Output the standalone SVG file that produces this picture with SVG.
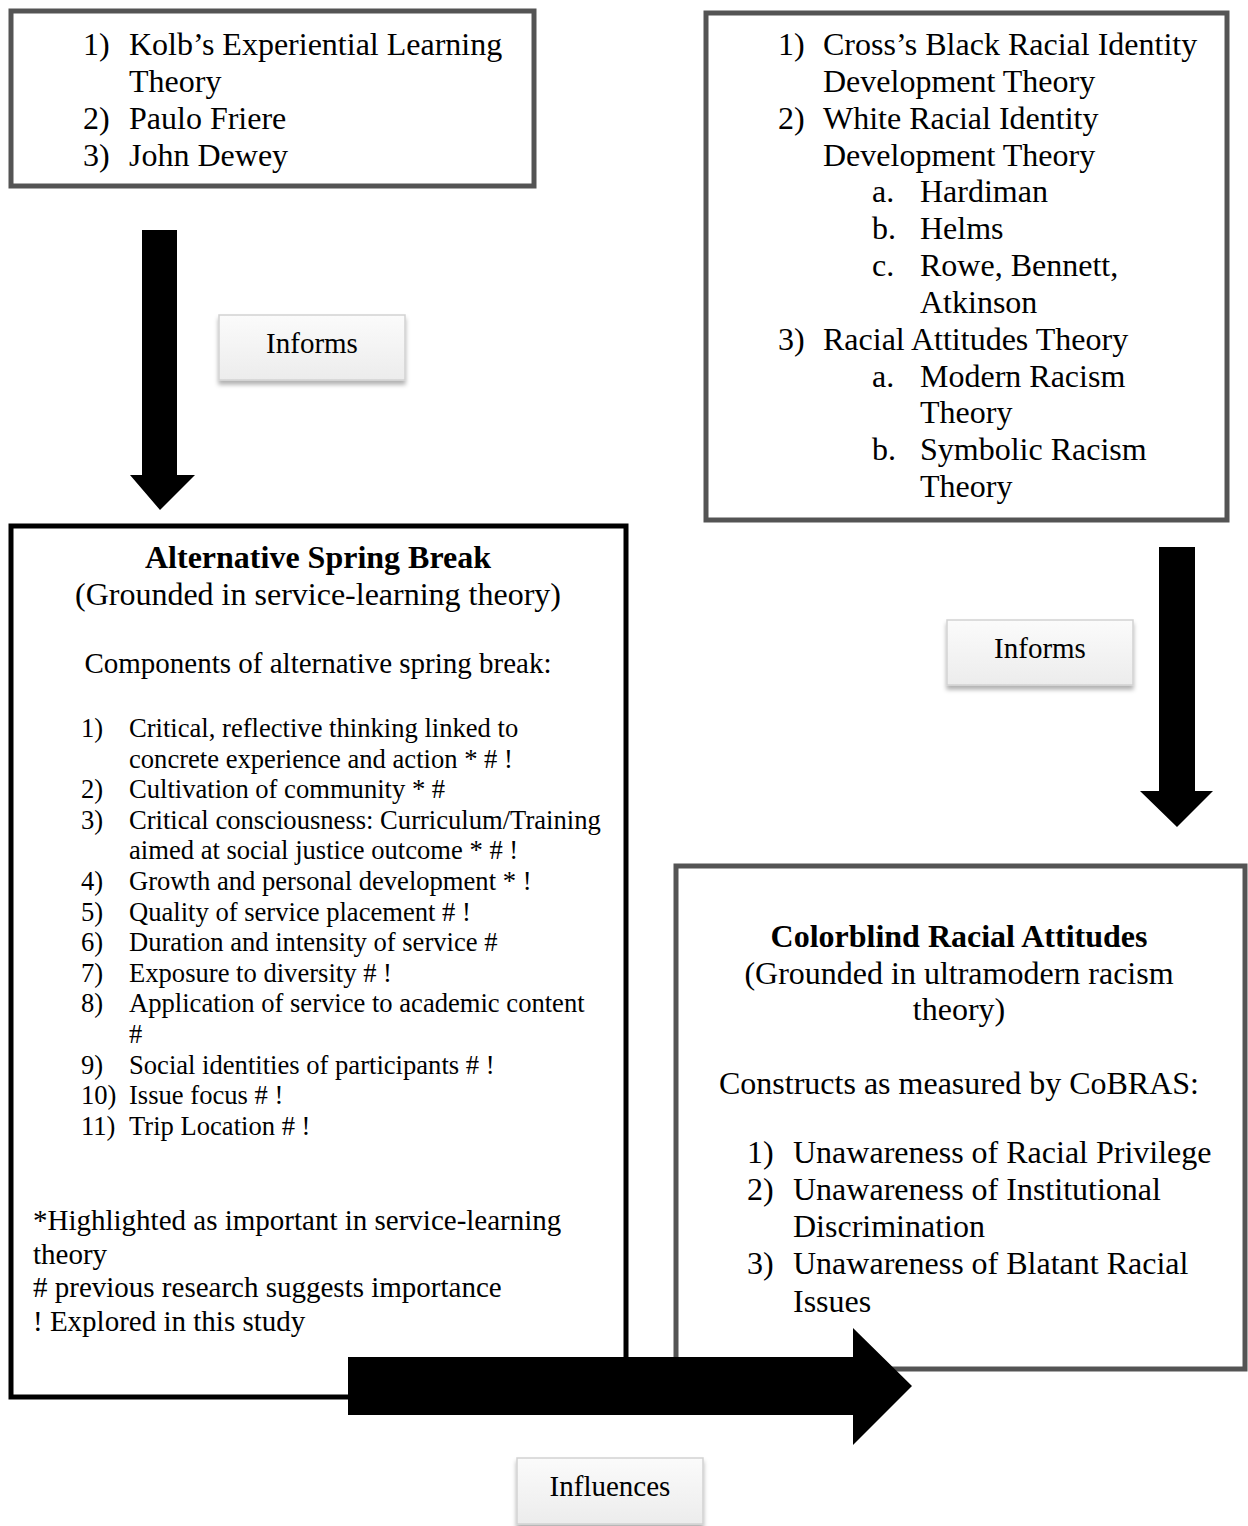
<svg xmlns="http://www.w3.org/2000/svg" width="1248" height="1526" viewBox="0 0 1248 1526">
<style>
text{font-family:"Liberation Serif","Times New Roman",serif;fill:#000}
.t32{font-size:32px}
.t29{font-size:29px}
.t26{font-size:26.6px}
.b{font-weight:bold}
.mid{text-anchor:middle}
.box{fill:#fff;stroke-width:5}
.grey{stroke:#545454}
.blk{stroke:#000}
.lbl{fill:url(#lg);stroke:#d2d2d2;stroke-width:1.5;filter:url(#sh)}
.arr{fill:#000}
</style>
<defs>
<linearGradient id="lg" x1="0" y1="0" x2="0" y2="1">
<stop offset="0" stop-color="#fbfbfb"/>
<stop offset="1" stop-color="#ececec"/>
</linearGradient>
<filter id="sh" x="-10%" y="-10%" width="120%" height="140%">
<feDropShadow dx="0" dy="4" stdDeviation="2" flood-color="#000" flood-opacity="0.3"/>
</filter>
</defs>

<g id="node-theories-left">
<rect class="box grey" x="11" y="11" width="523" height="175"/>
<text class="t32"><tspan x="83" y="55">1)</tspan><tspan x="129" y="55">Kolb’s Experiential Learning</tspan><tspan x="129" y="92">Theory</tspan><tspan x="83" y="129">2)</tspan><tspan x="129" y="129">Paulo Friere</tspan><tspan x="83" y="166">3)</tspan><tspan x="129" y="166">John Dewey</tspan></text>
</g>

<g id="node-theories-right">
<rect class="box grey" x="706" y="13" width="521" height="507"/>
<text class="t32"><tspan x="778" y="55">1)</tspan><tspan x="823" y="55">Cross’s Black Racial Identity</tspan><tspan x="823" y="92">Development Theory</tspan><tspan x="778" y="129">2)</tspan><tspan x="823" y="129">White Racial Identity</tspan><tspan x="823" y="166">Development Theory</tspan><tspan x="872" y="202">a.</tspan><tspan x="920" y="202">Hardiman</tspan><tspan x="872" y="239">b.</tspan><tspan x="920" y="239">Helms</tspan><tspan x="872" y="276">c.</tspan><tspan x="920" y="276">Rowe, Bennett,</tspan><tspan x="920" y="313">Atkinson</tspan><tspan x="778" y="350">3)</tspan><tspan x="823" y="350">Racial Attitudes Theory</tspan><tspan x="872" y="387">a.</tspan><tspan x="920" y="387">Modern Racism</tspan><tspan x="920" y="423">Theory</tspan><tspan x="872" y="460">b.</tspan><tspan x="920" y="460">Symbolic Racism</tspan><tspan x="920" y="497">Theory</tspan></text>
</g>

<g id="node-asb">
<rect class="box blk" x="11" y="526" width="615" height="871"/>
<text class="t32 b mid" x="318" y="568">Alternative Spring Break</text>
<text class="t32 mid" x="318" y="605">(Grounded in service-learning theory)</text>
<text class="t29 mid" x="318" y="673">Components of alternative spring break:</text>
<text class="t26"><tspan x="81" y="737">1)</tspan><tspan x="129" y="737">Critical, reflective thinking linked to</tspan><tspan x="129" y="767.6">concrete experience and action * # !</tspan><tspan x="81" y="798.2">2)</tspan><tspan x="129" y="798.2">Cultivation of community * #</tspan><tspan x="81" y="828.8">3)</tspan><tspan x="129" y="828.8">Critical consciousness: Curriculum/Training</tspan><tspan x="129" y="859.4">aimed at social justice outcome * # !</tspan><tspan x="81" y="890">4)</tspan><tspan x="129" y="890">Growth and personal development * !</tspan><tspan x="81" y="920.6">5)</tspan><tspan x="129" y="920.6">Quality of service placement # !</tspan><tspan x="81" y="951.2">6)</tspan><tspan x="129" y="951.2">Duration and intensity of service #</tspan><tspan x="81" y="981.8">7)</tspan><tspan x="129" y="981.8">Exposure to diversity # !</tspan><tspan x="81" y="1012.4">8)</tspan><tspan x="129" y="1012.4">Application of service to academic content</tspan><tspan x="129" y="1043">#</tspan><tspan x="81" y="1073.6">9)</tspan><tspan x="129" y="1073.6">Social identities of participants # !</tspan><tspan x="81" y="1104.2">10)</tspan><tspan x="129" y="1104.2">Issue focus # !</tspan><tspan x="81" y="1134.8">11)</tspan><tspan x="129" y="1134.8">Trip Location # !</tspan></text>
<text class="t29"><tspan x="33" y="1230">*Highlighted as important in service-learning</tspan><tspan x="33" y="1264">theory</tspan><tspan x="33" y="1297"># previous research suggests importance</tspan><tspan x="33" y="1331">! Explored in this study</tspan></text>
</g>

<g id="node-colorblind">
<rect class="box grey" x="676" y="866" width="569" height="503"/>
<text class="t32 b mid" x="959" y="947">Colorblind Racial Attitudes</text>
<text class="t32 mid" x="959" y="984">(Grounded in ultramodern racism</text>
<text class="t32 mid" x="959" y="1020">theory)</text>
<text class="t32 mid" x="959" y="1094">Constructs as measured by CoBRAS:</text>
<text class="t32"><tspan x="747" y="1163">1)</tspan><tspan x="793" y="1163">Unawareness of Racial Privilege</tspan><tspan x="747" y="1200">2)</tspan><tspan x="793" y="1200">Unawareness of Institutional</tspan><tspan x="793" y="1237">Discrimination</tspan><tspan x="747" y="1274">3)</tspan><tspan x="793" y="1274">Unawareness of Blatant Racial</tspan><tspan x="793" y="1312">Issues</tspan></text>
</g>

<g id="connectors">
<polygon class="arr" points="142,230 177,230 177,475 195,475 160,510 130,475 142,475"/>
<polygon class="arr" points="1159,547 1195,547 1195,791 1213,791 1177,827 1140,791 1159,791"/>
<polygon class="arr" points="348,1357 853,1357 853,1328 912,1386 853,1445 853,1415 348,1415"/>
</g>

<g id="label-informs-1">
<rect class="lbl" x="219" y="315" width="186" height="65"/>
<text class="t29 mid" x="312" y="353">Informs</text>
</g>
<g id="label-informs-2">
<rect class="lbl" x="947" y="620" width="186" height="65"/>
<text class="t29 mid" x="1040" y="658">Informs</text>
</g>
<g id="label-influences">
<rect class="lbl" x="517" y="1458" width="186" height="66"/>
<text class="t29 mid" x="610" y="1496">Influences</text>
</g>
</svg>
